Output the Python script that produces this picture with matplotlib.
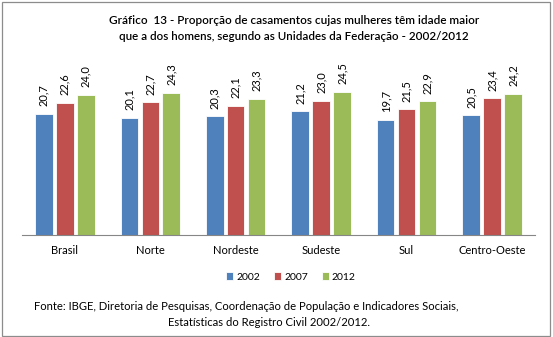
import numpy as np
import matplotlib.pyplot as plt
from matplotlib.patches import Rectangle

plt.rcParams['font.family'] = ['Lato', 'DejaVu Sans']

regioes = ['Brasil', 'Norte', 'Nordeste', 'Sudeste', 'Sul', 'Centro-Oeste']
anos = ['2002', '2007', '2012']
v2002 = [20.7, 20.1, 20.3, 21.2, 19.7, 20.5]
v2007 = [22.6, 22.7, 22.1, 23.0, 21.5, 23.4]
v2012 = [24.0, 24.3, 23.3, 24.5, 22.9, 24.2]
cores = ['#4F81BD', '#C0504D', '#9BBB59']

fig = plt.figure(figsize=(5.53, 3.37), dpi=100)
ax = fig.add_axes([0.040, 0.303, 0.927, 0.530])
renderer = fig.canvas.get_renderer()


def ajusta(txt, largura):
    # escala a fonte para o texto ocupar a largura desejada (px)
    w = txt.get_window_extent(renderer).width
    txt.set_fontsize(txt.get_fontsize() * largura / w)


x = np.arange(len(regioes))
passo = 0.245
for i, (serie, cor, ano) in enumerate(zip([v2002, v2007, v2012], cores, anos)):
    pos = x + (i - 1) * passo
    ax.bar(pos, serie, width=0.205, color=cor, edgecolor='white', linewidth=0.6, label=ano)
    for xp, v in zip(pos, serie):
        ax.text(xp, v + 1.3, f'{v:.1f}'.replace('.', ','), rotation=90,
                ha='center', va='bottom', fontsize=8)

ax.set_xlim(-0.5, 5.5)
ax.set_ylim(0, 30.6)
ax.set_yticks([])
ax.set_xticks(x)
ax.set_xticklabels(regioes, fontsize=8)
ax.tick_params(axis='x', length=0, pad=7)
for s in ['top', 'right', 'left']:
    ax.spines[s].set_visible(False)
ax.spines['bottom'].set_color('#868686')

t1 = fig.text(0.532, 1 - 20 / 337, 'Gráfico  13 - Proporção de casamentos cujas mulheres têm idade maior',
              ha='center', va='center', fontsize=9, fontweight='semibold')
t2 = fig.text(0.531, 1 - 37 / 337, 'que a dos homens, segundo as Unidades da Federação - 2002/2012',
              ha='center', va='center', fontsize=9, fontweight='semibold')
ajusta(t1, 374)
ajusta(t2, 353)

fig.legend(loc='center', bbox_to_anchor=(291 / 553, 1 - 277 / 337), ncol=3, frameon=False,
           fontsize=7.5, handlelength=0.7, handleheight=0.7, handletextpad=0.3,
           columnspacing=1.3)

f1 = fig.text(246 / 553, 1 - 307 / 337,
              'Fonte: IBGE, Diretoria de Pesquisas, Coordenação de População e Indicadores Sociais,',
              ha='center', va='center', fontsize=8)
f2 = fig.text(269 / 553, 1 - 323 / 337, 'Estatísticas do Registro Civil 2002/2012.',
              ha='center', va='center', fontsize=8)
ajusta(f1, 427)
f2.set_fontsize(f1.get_fontsize())

fig.patches.append(Rectangle((0.003, 0.004), 0.992, 0.991, transform=fig.transFigure,
                             fill=False, edgecolor='#8c8c8c', linewidth=0.9))

fig.savefig('out.png', dpi=100)
